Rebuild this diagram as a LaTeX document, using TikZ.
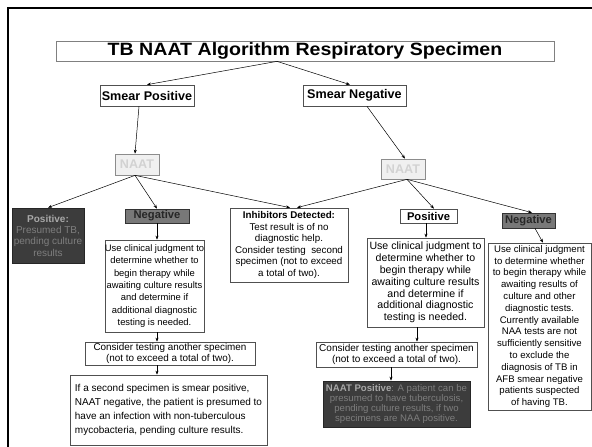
\documentclass[tikz,border=0pt]{standalone}
\usepackage{fontspec}
\setmainfont{Liberation Sans}
\newfontfamily\titlefont[FakeStretch=1.1]{Liberation Sans}
\usetikzlibrary{arrows.meta}
\definecolor{darkfill}{HTML}{3C3C3C}
\definecolor{darktext}{HTML}{7E7E7E}
\definecolor{darkbold}{HTML}{A8A8A8}
\definecolor{negfill}{HTML}{787878}
\definecolor{naatfill}{HTML}{F0F0F0}
\definecolor{naattext}{HTML}{D2D2D2}
\definecolor{boxline}{HTML}{505050}
\newcommand\setfs[2]{\fontsize{#1}{#2}\selectfont}
\tikzset{
  box/.style={draw=boxline, line width=0.7pt, fill=white, inner sep=0pt, align=center, anchor=center},
  darkbox/.style={box, fill=darkfill, draw=black!85, text=darktext},
  negbox/.style={box, fill=negfill, draw=black!80, text=black!85},
  naatbox/.style={box, fill=naatfill, draw=black!45, text=naattext},
  arr/.style={-{Stealth[length=4pt,width=3pt]}, line width=0.5pt, black},
}
\begin{document}
\begin{tikzpicture}[x=1pt,y=-1pt]
\useasboundingbox (0,0) rectangle (592,447);
\fill[white] (0,0) rectangle (592,447);
% frame
\draw[line width=2.6pt, line join=miter] (8,448) -- (8,8) -- (593,8);

% title
\node[box, draw=black!50, minimum width=498pt, minimum height=20pt, font=\titlefont\bfseries\setfs{17.8}{19}] (title) at (305,51) {TB NAAT Algorithm Respiratory Specimen};

% smear nodes
\node[box, minimum width=94pt, minimum height=21pt, font=\bfseries\setfs{12.6}{14}] (sp) at (147,95.5) {Smear Positive};
\node[box, minimum width=103pt, minimum height=21pt, font=\bfseries\setfs{12.6}{14}] (sn) at (354.5,95.5) {Smear Negative};

% NAAT nodes
\node[naatbox, minimum width=44pt, minimum height=21pt, font=\bfseries\setfs{12.6}{14}] (naatA) at (137,164.5) {NAAT};
\node[naatbox, minimum width=44pt, minimum height=20pt, font=\bfseries\setfs{12.6}{14}] (naatB) at (403,169) {NAAT};

% left branch
\node[darkbox, minimum width=72pt, minimum height=55pt, font=\setfs{10}{11.3}] (posd) at (48,235.5)
  {\textcolor{darkbold}{\textbf{Positive:}}\\Presumed TB,\\pending culture\\results};
\node[negbox, minimum width=64pt, minimum height=14pt, font=\bfseries\setfs{11.2}{12}] (negl) at (157,216) {Negative};
\node[box, minimum width=99pt, minimum height=92pt, font=\setfs{9.4}{12.3}] (clinl) at (154.5,286)
  {Use clinical judgment to\\determine whether to\\begin therapy while\\awaiting culture results\\and determine if\\additional diagnostic\\testing is needed.};
\node[box, minimum width=170pt, minimum height=23pt, font=\setfs{9.9}{11}] (consl) at (170,353.5)
  {Consider testing another specimen\\(not to exceed a total of two).};
\node[box, align=left, minimum width=197pt, minimum height=70pt, font=\setfs{10}{14}] (botl) at (168.5,410)
  {If a second specimen is smear positive,\\NAAT negative, the patient is presumed to\\have an infection with non-tuberculous\\mycobacteria, pending culture results.};

% inhibitors
\node[box, minimum width=118pt, minimum height=74pt, font=\setfs{9.8}{11.5}] (inhib) at (289,245)
  {\textbf{Inhibitors Detected:}\\Test result is of no\\diagnostic help.\\Consider testing\ \ second\\specimen (not to exceed\\a total of two).};

% right branch
\node[box, minimum width=57pt, minimum height=14pt, font=\bfseries\setfs{11.2}{12}] (posr) at (428.5,216) {Positive};
\node[box, minimum width=117pt, minimum height=89pt, font=\setfs{10.6}{11.8}] (clinr) at (425.5,282.5)
  {Use clinical judgment to\\determine whether to\\begin therapy while\\awaiting culture results\\and determine if\\additional diagnostic\\testing is needed.};
\node[box, minimum width=161pt, minimum height=25pt, font=\setfs{10}{11.5}] (consr) at (396.5,354.5)
  {Consider testing another specimen\\(not to exceed a total of two).};
\node[darkbox, minimum width=147pt, minimum height=46pt, font=\setfs{9.6}{9.8}] (naatpos) at (396.5,404)
  {\textcolor{darkbold}{\textbf{NAAT Positive}}: A patient can be\\presumed to have tuberculosis,\\pending culture results, if two\\specimens are NAA positive.};

\node[negbox, minimum width=53pt, minimum height=15pt, font=\bfseries\setfs{11.2}{12}] (negr) at (528.5,220.5) {Negative};
\node[box, minimum width=103pt, minimum height=167pt, font=\setfs{9.6}{11.8}] (tall) at (539.5,326.5)
  {Use clinical judgment\\to determine whether\\to begin therapy while\\awaiting results of\\culture and other\\diagnostic tests.\\Currently available\\NAA tests are not\\sufficiently sensitive\\to exclude the\\diagnosis of TB in\\AFB smear negative\\patients suspected\\of having TB.};

% connectors
\draw[arr] ([xshift=-28pt]title.south) -- (sp.north);
\draw[arr] ([xshift=-28pt]title.south) -- ([xshift=-4.5pt]sn.north);
\draw[arr] ([xshift=-8pt]sp.south) -- ([xshift=-2pt]naatA.north);
\draw[arr] ([xshift=12.5pt]sn.south) -- ([xshift=2pt]naatB.north);
\draw[arr] ([xshift=-2pt]naatA.south) -- (posd.north);
\draw[arr] ([xshift=-2pt]naatA.south) -- (negl.north);
\draw[arr] ([xshift=-2pt]naatA.south) -- ([xshift=1pt]inhib.north);
\draw[arr] ([xshift=4pt]naatB.south) -- ([xshift=8pt]inhib.north);
\draw[arr] ([xshift=4pt]naatB.south) -- ([xshift=5.5pt]posr.north);
\draw[arr] ([xshift=4pt]naatB.south) -- ([xshift=3.5pt]negr.north);
\draw[arr] (negl.south) -- ([xshift=2.5pt]clinl.north);
\draw[arr] ([xshift=2.5pt]clinl.south) -- ([xshift=-13pt]consl.north);
\draw[arr] ([xshift=-13pt]consl.south) -- ([xshift=-11.5pt]botl.north);
\draw[arr] ([xshift=-2.5pt]posr.south) -- ([xshift=0.5pt]clinr.north);
\draw[arr] ([xshift=-8.5pt]clinr.south) -- ([xshift=20.5pt]consr.north);
\draw[arr] ([xshift=-5.5pt]consr.south) -- ([xshift=-5.5pt]naatpos.north);
\draw[arr] ([xshift=6.5pt]negr.south) -- ([xshift=3.5pt]tall.north);
\end{tikzpicture}
\end{document}
